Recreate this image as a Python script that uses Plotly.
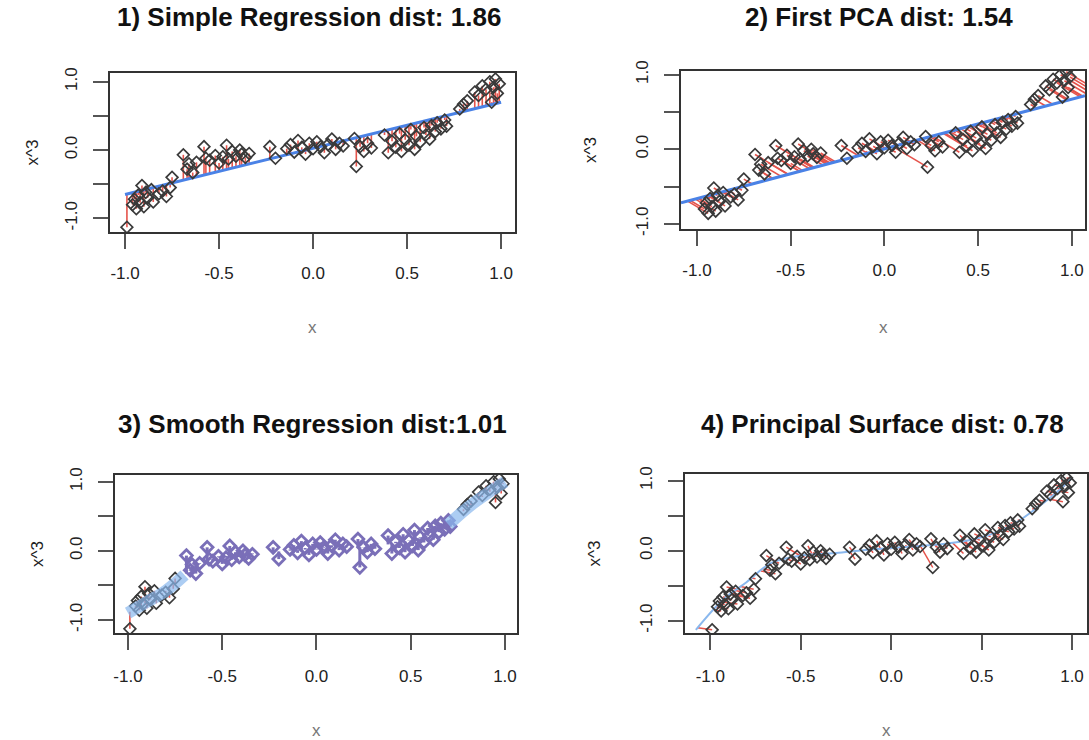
import numpy as np
import plotly.graph_objects as go

# ---------------- data ----------------
x_data = [-0.99, -0.96, -0.95, -0.94, -0.93, -0.92, -0.91, -0.90, -0.89, -0.88, -0.86, -0.85,
          -0.82, -0.80, -0.78, -0.76, -0.75,
          -0.69, -0.67, -0.66, -0.64, -0.62, -0.58, -0.57, -0.55, -0.52, -0.50, -0.48, -0.46,
          -0.45, -0.43, -0.41, -0.39, -0.38, -0.36, -0.34,
          -0.23, -0.20, -0.14, -0.12, -0.10, -0.08, -0.06, -0.04, -0.02, 0.00, 0.02, 0.04,
          0.06, 0.08, 0.10, 0.12, 0.14, 0.16,
          0.22, 0.23, 0.25, 0.27, 0.29, 0.31,
          0.38, 0.40, 0.42, 0.44, 0.46, 0.47, 0.49, 0.51, 0.52, 0.54, 0.55, 0.57, 0.59, 0.60,
          0.62, 0.63, 0.65, 0.66, 0.68, 0.70, 0.71,
          0.78, 0.80, 0.82, 0.86, 0.88, 0.90, 0.92, 0.94, 0.95, 0.96, 0.97, 0.98, 0.99]
y_data = [-1.13, -0.80, -0.72, -0.86, -0.66, -0.77, -0.52, -0.83, -0.62, -0.70, -0.58, -0.76,
          -0.64, -0.60, -0.68, -0.55, -0.40,
          -0.07, -0.28, -0.20, -0.33, -0.18, 0.05, -0.12, -0.15, -0.08, -0.19, -0.10, 0.07,
          -0.13, -0.02, -0.09, 0.00, -0.06, -0.11, -0.05,
          0.05, -0.12, 0.02, 0.08, -0.03, 0.14, 0.04, -0.06, 0.10, 0.02, 0.12, 0.05,
          -0.04, 0.08, 0.16, 0.01, 0.10, 0.06,
          0.17, -0.24, 0.05, -0.02, 0.10, 0.03,
          0.22, -0.04, 0.13, 0.04, 0.24, -0.02, 0.15, 0.07, 0.30, 0.01, 0.20, 0.12, 0.33, 0.22,
          0.16, 0.36, 0.27, 0.40, 0.31, 0.44, 0.35,
          0.60, 0.67, 0.72, 0.85, 0.80, 0.94, 0.89, 1.00, 0.70, 0.92, 1.04, 0.83, 0.97]

# fitted curves
reg_x = [-1.0, 1.0]
reg_y = [-0.65, 0.70]
pca_x = [-1.085, 1.07]
pca_y = [-0.72, 0.72]
smooth_x = [-1.0, -0.9, -0.8, -0.7, -0.6, -0.5, -0.4, -0.3, -0.2, -0.1, 0.0, 0.1, 0.2, 0.3,
            0.4, 0.5, 0.6, 0.7, 0.8, 0.9, 1.0]
smooth_y = [-0.90, -0.74, -0.58, -0.35, -0.15, -0.08, -0.05, -0.03, -0.01, 0.01, 0.03, 0.05,
            0.05, 0.06, 0.10, 0.15, 0.23, 0.38, 0.62, 0.82, 1.0]
pc_x = [-1.08, -0.93, -0.80, -0.66, -0.50, -0.29, -0.10, 0.12, 0.30, 0.45, 0.60, 0.69, 0.80, 0.90, 1.0]
pc_y = [-1.13, -0.70, -0.45, -0.17, -0.07, -0.03, 0.02, 0.06, 0.10, 0.16, 0.28, 0.40, 0.60, 0.80, 1.04]

titles = ["1) Simple Regression dist: 1.86", "2) First PCA dist: 1.54",
          "3) Smooth Regression dist:1.01", "4) Principal Surface dist: 0.78"]
tick_vals = [-1.0, -0.5, 0.0, 0.5, 1.0]
x_tick_text = ["-1.0", "-0.5", "0.0", "0.5", "1.0"]
y_tick_text = ["-1.0", "", "0.0", "", "1.0"]

# ---------------- styles ----------------
RED = "#e5534b"
BLUE = "#4a82e6"
LBLUE = "#8ab8ee"
PURPLE = "#7a6fb8"
DARK = "#3a3a3a"
SANS = "Liberation Sans, Arial, sans-serif"

W, H = 1089, 740
# plot boxes in pixels: (left, top, right, bottom)
boxes = [(110, 73, 515, 232), (681, 71, 1085, 229), (115, 475, 517, 633), (685, 474, 1087, 633)]
xranges = [(-1.08, 1.074), (-1.085, 1.07), (-1.069, 1.064), (-1.14, 1.083)]
yranges = [(-1.20, 1.128), (-1.07, 1.05), (-1.19, 1.097), (-1.176, 1.096)]

X = np.array(x_data)
Y = np.array(y_data)


def seg_trace(x0, y0, x1, y1, color, width, ax):
    xs, ys = [], []
    for a, b, c, d in zip(x0, y0, x1, y1):
        xs += [a, c, None]
        ys += [b, d, None]
    return go.Scatter(x=xs, y=ys, mode="lines", line=dict(color=color, width=width),
                      xaxis="x" + ax, yaxis="y" + ax, hoverinfo="skip")


def pts_trace(x, y, color, ax, lw=1.7, size=9):
    return go.Scatter(x=list(x), y=list(y), mode="markers",
                      marker=dict(symbol="diamond-open", size=size, color=color,
                                  line=dict(width=lw, color=color)),
                      xaxis="x" + ax, yaxis="y" + ax)


fig = go.Figure()

# ---- panel 1: simple regression (vertical residuals)
fy1 = np.interp(X, reg_x, reg_y)
fig.add_trace(seg_trace(X, Y, X, fy1, RED, 1.6, ""))
fig.add_trace(go.Scatter(x=reg_x, y=reg_y, mode="lines", line=dict(color=BLUE, width=3),
                         xaxis="x", yaxis="y"))
fig.add_trace(pts_trace(X, Y, DARK, ""))

# ---- panel 2: first principal component (orthogonal residuals)
inside = Y >= yranges[1][0]
X2, Y2 = X[inside], Y[inside]
p0 = np.array([pca_x[0], pca_y[0]])
d = np.array([pca_x[1] - pca_x[0], pca_y[1] - pca_y[0]])
t = ((X2 - p0[0]) * d[0] + (Y2 - p0[1]) * d[1]) / (d @ d)
px2 = p0[0] + t * d[0]
py2 = p0[1] + t * d[1]
fig.add_trace(seg_trace(X2, Y2, px2, py2, RED, 1.6, "2"))
fig.add_trace(go.Scatter(x=pca_x, y=pca_y, mode="lines", line=dict(color=BLUE, width=3),
                         xaxis="x2", yaxis="y2"))
fig.add_trace(pts_trace(X2, Y2, DARK, "2"))

# ---- panel 3: smooth regression
fy3 = np.interp(X, smooth_x, smooth_y)
mid = (X > -0.72) & (X < 0.74)
ends = ~mid
fig.add_trace(seg_trace(X[ends], Y[ends], X[ends], fy3[ends], RED, 1.6, "3"))
fig.add_trace(seg_trace(X[mid], Y[mid], X[mid], fy3[mid], PURPLE, 3, "3"))
fig.add_trace(pts_trace(X[ends], Y[ends], DARK, "3"))
fig.add_trace(pts_trace(X[mid], Y[mid], PURPLE, "3", lw=2.8))
sx = np.array(smooth_x)
sy = np.array(smooth_y)
for m in [(sx <= -0.7), (sx >= 0.7)]:
    fig.add_trace(go.Scatter(x=sx[m], y=sy[m], mode="lines",
                             line=dict(color=LBLUE, width=12, shape="spline"), opacity=0.7,
                             xaxis="x3", yaxis="y3"))

# ---- panel 4: principal curve (projection to nearest point on curve)
cx = np.array(pc_x)
cy = np.array(pc_y)
proj_x, proj_y = [], []
for xi, yi in zip(X, Y):
    best = None
    for k in range(len(cx) - 1):
        ax_, ay_ = cx[k], cy[k]
        dx, dy = cx[k + 1] - ax_, cy[k + 1] - ay_
        tt = np.clip(((xi - ax_) * dx + (yi - ay_) * dy) / (dx * dx + dy * dy), 0, 1)
        qx, qy = ax_ + tt * dx, ay_ + tt * dy
        dd = (qx - xi) ** 2 + (qy - yi) ** 2
        if best is None or dd < best[0]:
            best = (dd, qx, qy)
    proj_x.append(best[1])
    proj_y.append(best[2])
fig.add_trace(seg_trace(X, Y, proj_x, proj_y, RED, 1.5, "4"))
fig.add_trace(go.Scatter(x=pc_x, y=pc_y, mode="lines",
                         line=dict(color=LBLUE, width=2, shape="spline"),
                         xaxis="x4", yaxis="y4"))
fig.add_trace(pts_trace(X, Y, DARK, "4"))

# ---------------- axes ----------------
layout = dict(width=W, height=H, margin=dict(l=0, r=0, t=0, b=0, autoexpand=False),
              paper_bgcolor="white", plot_bgcolor="white", showlegend=False)
annotations = []
for i, (box, xr, yr) in enumerate(zip(boxes, xranges, yranges)):
    l, tp, r, b = box
    top_row = i < 2
    sfx = "" if i == 0 else str(i + 1)
    common = dict(showgrid=False, zeroline=False, showline=True, mirror=True,
                  linecolor="#333", linewidth=2, ticks="outside", ticklen=15,
                  tickwidth=1.5, tickcolor="#555", tickvals=tick_vals,
                  tickfont=dict(family=SANS, size=17, color="#222"),
                  fixedrange=True, automargin=False)
    layout["xaxis" + sfx] = dict(common, domain=[l / W, r / W], range=list(xr),
                                 ticktext=x_tick_text, anchor="y" + sfx,
                                 ticklabelstandoff=10 if top_row else 12)
    layout["yaxis" + sfx] = dict(common, domain=[1 - b / H, 1 - tp / H], range=list(yr),
                                 ticktext=y_tick_text, tickangle=-90, anchor="x" + sfx,
                                 ticklabelstandoff=9)
    cxp = (l + r) / 2
    # title
    ty = 17 if top_row else 424
    annotations.append(dict(text="<b>" + titles[i] + "</b>", x=(cxp - 4) / W, y=1 - ty / H,
                            xref="paper", yref="paper", showarrow=False,
                            xanchor="center", yanchor="middle",
                            font=dict(family=SANS, size=26, color="#111")))
    # x axis title
    xy = 327 if top_row else 730
    annotations.append(dict(text="x", x=cxp / W, y=1 - xy / H, xref="paper", yref="paper",
                            showarrow=False, xanchor="center", yanchor="middle",
                            font=dict(family=SANS, size=17, color="#777")))
    # y axis title
    yx = l - (78 if i in (0, 2) else 91)
    annotations.append(dict(text="x^3", x=yx / W, y=1 - ((tp + b) / 2) / H,
                            xref="paper", yref="paper", showarrow=False, textangle=-90,
                            xanchor="center", yanchor="middle",
                            font=dict(family=SANS, size=17, color="#222")))
layout["annotations"] = annotations
fig.update_layout(**layout)
fig.write_html("out.html", config={"displayModeBar": False},
               post_script="document.body.style.margin='0px';document.body.style.overflow='hidden';")
